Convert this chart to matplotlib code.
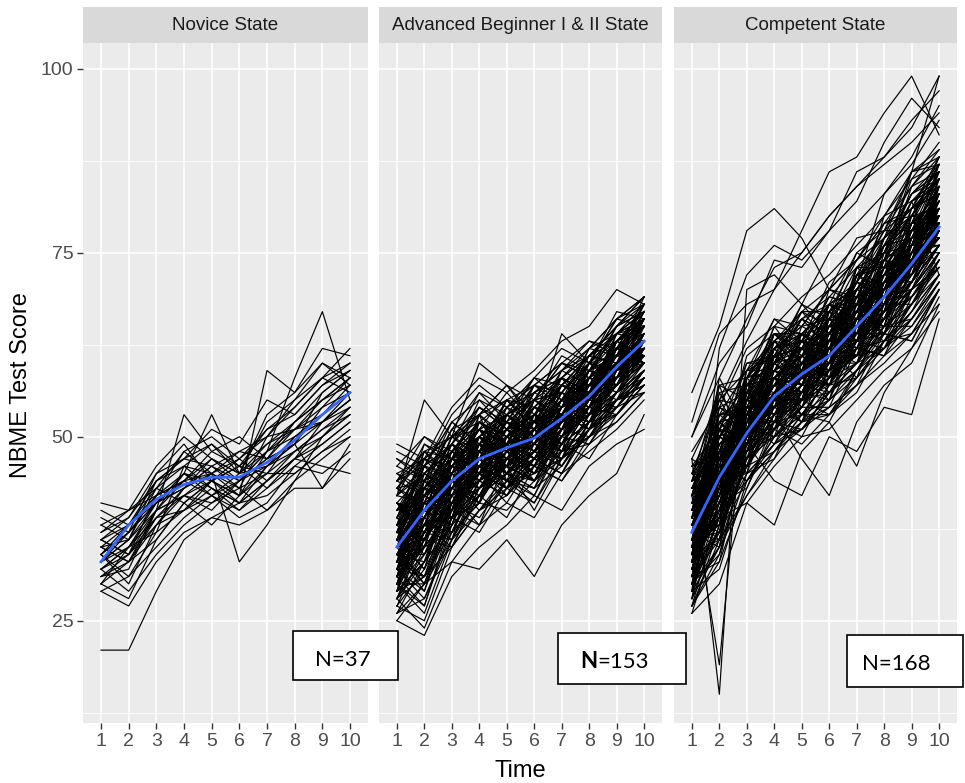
import matplotlib
matplotlib.use("Agg")
import matplotlib.pyplot as plt
from matplotlib.patches import Rectangle

# -----------------------------
# Data
# -----------------------------
times = [1, 2, 3, 4, 5, 6, 7, 8, 9, 10]

panel_titles = ["Novice State", "Advanced Beginner I & II State", "Competent State"]

novice = [
    [21, 21, 29, 36, 39, 41, 44, 47, 46, 45],
    [35, 33, 38, 43, 45, 42, 48, 52, 55, 58],
    [30, 28, 36, 41, 44, 46, 45, 50, 52, 55],
    [34, 37, 41, 45, 42, 44, 47, 49, 56, 59],
    [36, 38, 44, 47, 46, 43, 50, 54, 58, 62],
    [32, 35, 39, 42, 45, 47, 44, 48, 51, 53],
    [38, 40, 43, 46, 49, 45, 52, 55, 60, 57],
    [29, 31, 35, 39, 42, 40, 43, 46, 49, 52],
    [33, 36, 40, 42, 40, 44, 48, 51, 53, 56],
    [31, 34, 42, 44, 47, 45, 46, 49, 54, 58],
    [37, 39, 45, 49, 44, 47, 51, 53, 57, 60],
    [34, 30, 38, 40, 43, 41, 44, 47, 50, 54],
    [40, 38, 41, 44, 48, 46, 49, 52, 56, 59],
    [30, 33, 36, 41, 38, 42, 45, 45, 48, 51],
    [35, 36, 44, 46, 45, 48, 47, 51, 52, 55],
    [32, 29, 34, 38, 41, 43, 40, 44, 47, 50],
    [41, 40, 46, 50, 47, 45, 53, 56, 62, 61],
    [33, 35, 37, 40, 42, 39, 41, 46, 45, 48],
    [36, 34, 39, 43, 46, 44, 48, 50, 53, 57],
    [31, 32, 40, 45, 43, 41, 46, 48, 51, 54],
    [34, 38, 42, 48, 50, 47, 50, 55, 58, 60],
    [29, 27, 33, 37, 39, 38, 40, 43, 43, 47],
    [38, 36, 43, 41, 44, 42, 46, 49, 52, 55],
    [33, 37, 45, 47, 49, 46, 51, 54, 58, 56],
    [35, 33, 40, 44, 45, 43, 45, 48, 50, 53],
    [32, 34, 38, 42, 41, 44, 47, 52, 55, 58],
    [37, 40, 42, 45, 44, 46, 43, 47, 49, 52],
    [30, 35, 41, 43, 46, 48, 50, 51, 55, 57],
    [34, 31, 37, 46, 43, 40, 44, 47, 52, 56],
    [36, 39, 44, 47, 51, 49, 55, 53, 57, 59],
    [31, 33, 39, 40, 44, 41, 42, 45, 48, 50],
    [39, 37, 42, 44, 42, 45, 49, 51, 54, 56],
    [33, 36, 41, 43, 47, 44, 46, 50, 52, 54],
    [35, 38, 43, 48, 45, 33, 38, 44, 50, 53],
    [32, 35, 40, 42, 44, 42, 59, 56, 60, 58],
    [34, 37, 41, 45, 53, 45, 48, 58, 67, 55],
    [36, 34, 40, 53, 48, 50, 47, 49, 43, 49],
]

advanced = [
    [35, 40, 44, 47, 49, 50, 53, 56, 60, 63],
    [30, 36, 41, 45, 46, 48, 50, 54, 58, 61],
    [40, 43, 47, 50, 52, 51, 55, 59, 62, 66],
    [33, 38, 42, 44, 47, 49, 52, 53, 57, 60],
    [37, 42, 46, 49, 48, 52, 54, 58, 61, 65],
    [28, 34, 39, 43, 45, 44, 48, 51, 55, 58],
    [42, 45, 48, 52, 50, 53, 57, 60, 64, 67],
    [31, 37, 43, 46, 49, 47, 51, 55, 59, 62],
    [36, 39, 45, 48, 46, 50, 53, 57, 60, 64],
    [34, 41, 44, 47, 51, 52, 55, 56, 61, 63],
    [26, 30, 36, 40, 44, 45, 47, 50, 53, 57],
    [38, 44, 47, 51, 53, 55, 56, 60, 63, 66],
    [32, 35, 40, 45, 47, 46, 50, 53, 57, 61],
    [45, 47, 50, 53, 55, 54, 58, 61, 65, 68],
    [29, 33, 38, 42, 45, 47, 49, 52, 56, 59],
    [39, 43, 46, 48, 49, 51, 54, 57, 62, 64],
    [35, 38, 41, 44, 46, 48, 51, 55, 58, 62],
    [33, 42, 45, 50, 48, 49, 52, 56, 59, 63],
    [37, 36, 42, 46, 50, 52, 53, 58, 60, 65],
    [30, 39, 44, 43, 47, 50, 54, 55, 58, 61],
    [41, 38, 46, 51, 47, 49, 55, 53, 63, 60],
    [27, 25, 35, 40, 42, 46, 44, 49, 52, 56],
    [36, 44, 40, 47, 52, 48, 51, 59, 57, 64],
    [32, 29, 41, 45, 43, 51, 49, 52, 60, 62],
    [44, 48, 45, 52, 49, 54, 58, 56, 61, 67],
    [34, 31, 38, 49, 46, 44, 50, 55, 54, 59],
    [38, 46, 49, 45, 53, 50, 56, 54, 62, 65],
    [29, 37, 36, 43, 48, 45, 47, 53, 56, 58],
    [43, 40, 48, 50, 46, 55, 52, 59, 58, 66],
    [31, 35, 45, 41, 50, 47, 53, 51, 59, 63],
    [35, 43, 39, 48, 44, 53, 49, 57, 63, 61],
    [25, 30, 33, 38, 41, 39, 45, 48, 51, 55],
    [39, 35, 47, 44, 51, 49, 55, 60, 57, 64],
    [33, 40, 37, 46, 49, 52, 48, 54, 62, 60],
    [47, 44, 52, 55, 51, 57, 60, 58, 65, 69],
    [30, 27, 39, 42, 45, 43, 49, 52, 55, 57],
    [36, 45, 43, 49, 47, 51, 57, 55, 61, 66],
    [34, 33, 44, 47, 43, 50, 52, 57, 59, 62],
    [40, 47, 50, 48, 54, 52, 51, 60, 64, 67],
    [28, 36, 41, 39, 44, 48, 46, 51, 54, 59],
    [37, 39, 46, 51, 49, 47, 54, 58, 56, 63],
    [32, 43, 42, 46, 50, 53, 50, 55, 60, 64],
    [42, 41, 49, 47, 53, 56, 59, 57, 63, 66],
    [35, 30, 40, 45, 48, 45, 51, 54, 58, 61],
    [31, 38, 35, 43, 46, 49, 53, 52, 57, 62],
    [38, 49, 47, 52, 55, 51, 57, 61, 60, 68],
    [26, 28, 37, 41, 40, 44, 47, 50, 55, 56],
    [44, 42, 50, 54, 52, 58, 55, 62, 66, 65],
    [33, 37, 44, 42, 47, 50, 52, 54, 60, 63],
    [36, 40, 38, 47, 45, 49, 56, 53, 59, 64],
    [30, 34, 43, 46, 44, 42, 49, 55, 57, 60],
    [39, 46, 44, 50, 53, 55, 53, 59, 63, 67],
    [34, 38, 48, 45, 49, 46, 51, 57, 55, 62],
    [41, 37, 45, 49, 51, 54, 57, 56, 64, 63],
    [29, 41, 40, 44, 42, 47, 50, 54, 53, 58],
    [37, 44, 51, 48, 52, 50, 55, 58, 62, 66],
    [32, 31, 37, 44, 47, 51, 48, 52, 58, 60],
    [46, 50, 48, 53, 57, 53, 59, 63, 61, 69],
    [35, 36, 42, 50, 45, 48, 53, 51, 60, 62],
    [31, 42, 46, 43, 48, 46, 52, 56, 59, 61],
    [38, 34, 41, 47, 50, 53, 51, 57, 61, 65],
    [27, 32, 39, 37, 43, 45, 49, 47, 53, 57],
    [43, 47, 45, 51, 49, 56, 58, 61, 60, 67],
    [34, 39, 47, 49, 46, 44, 50, 53, 58, 63],
    [36, 41, 43, 45, 54, 50, 54, 57, 62, 64],
    [30, 26, 36, 42, 45, 48, 46, 52, 55, 59],
    [40, 45, 49, 53, 50, 52, 58, 55, 63, 66],
    [33, 35, 40, 48, 51, 47, 52, 58, 57, 61],
    [37, 48, 44, 46, 49, 55, 53, 56, 61, 65],
    [32, 37, 45, 41, 47, 49, 55, 51, 58, 62],
    [45, 43, 51, 56, 52, 55, 60, 59, 64, 68],
    [29, 31, 35, 40, 43, 41, 47, 50, 54, 56],
    [35, 40, 46, 44, 50, 54, 51, 57, 59, 64],
    [39, 37, 43, 50, 48, 46, 54, 60, 58, 63],
    [31, 44, 41, 47, 45, 50, 48, 54, 62, 60],
    [42, 46, 52, 49, 55, 57, 56, 61, 65, 67],
    [34, 29, 39, 43, 46, 44, 50, 53, 56, 61],
    [37, 42, 40, 52, 49, 51, 55, 58, 57, 65],
    [28, 33, 42, 45, 41, 47, 45, 51, 55, 58],
    [41, 39, 47, 46, 51, 53, 58, 56, 62, 66],
    [33, 45, 43, 48, 53, 50, 52, 59, 61, 63],
    [36, 32, 44, 41, 47, 52, 49, 55, 60, 62],
    [30, 38, 37, 45, 43, 46, 53, 51, 56, 60],
    [44, 50, 47, 54, 51, 56, 59, 62, 66, 68],
    [35, 36, 45, 49, 47, 45, 51, 54, 58, 64],
    [38, 43, 41, 47, 52, 49, 57, 55, 63, 61],
    [27, 35, 40, 38, 44, 47, 45, 52, 53, 57],
    [40, 41, 50, 52, 48, 54, 53, 60, 59, 66],
    [32, 39, 36, 44, 50, 48, 54, 57, 61, 62],
    [36, 47, 46, 51, 45, 53, 50, 56, 63, 65],
    [31, 27, 38, 46, 44, 41, 48, 50, 55, 59],
    [43, 44, 49, 47, 55, 52, 57, 61, 60, 67],
    [34, 40, 45, 43, 48, 51, 49, 55, 62, 61],
    [37, 35, 47, 48, 46, 55, 56, 54, 58, 64],
    [29, 42, 39, 41, 47, 44, 51, 53, 57, 60],
    [48, 46, 53, 57, 54, 58, 62, 60, 66, 69],
    [33, 38, 44, 49, 43, 47, 53, 58, 56, 62],
    [39, 45, 42, 45, 52, 50, 52, 55, 64, 65],
    [30, 30, 41, 44, 42, 49, 47, 51, 54, 58],
    [36, 43, 48, 46, 51, 48, 55, 59, 58, 63],
    [41, 36, 44, 53, 49, 52, 54, 57, 63, 66],
    [35, 41, 39, 42, 46, 50, 58, 53, 60, 61],
    [28, 37, 43, 47, 44, 43, 46, 52, 56, 59],
    [42, 49, 46, 50, 54, 56, 54, 62, 61, 68],
    [34, 34, 40, 45, 49, 46, 51, 55, 59, 60],
    [38, 40, 49, 44, 47, 53, 56, 54, 62, 64],
    [32, 44, 42, 48, 45, 49, 48, 58, 57, 63],
    [45, 42, 47, 55, 53, 51, 59, 61, 65, 67],
    [30, 35, 37, 41, 48, 45, 50, 49, 55, 57],
    [37, 46, 45, 48, 50, 54, 52, 57, 60, 66],
    [33, 31, 42, 46, 43, 48, 54, 56, 58, 61],
    [40, 43, 48, 51, 56, 52, 57, 55, 63, 65],
    [29, 39, 44, 40, 45, 50, 47, 53, 54, 59],
    [36, 37, 41, 49, 47, 46, 53, 59, 61, 62],
    [43, 48, 50, 47, 52, 57, 55, 60, 67, 66],
    [31, 36, 46, 43, 49, 44, 51, 54, 57, 63],
    [38, 41, 39, 50, 46, 51, 57, 56, 59, 64],
    [26, 33, 38, 42, 39, 46, 44, 50, 52, 56],
    [41, 45, 49, 54, 51, 55, 60, 58, 62, 68],
    [34, 42, 40, 45, 50, 47, 52, 57, 60, 61],
    [37, 38, 47, 44, 48, 53, 49, 54, 63, 65],
    [32, 28, 36, 48, 45, 42, 50, 53, 56, 60],
    [44, 47, 45, 52, 50, 56, 58, 62, 64, 67],
    [35, 39, 43, 41, 53, 49, 55, 52, 58, 63],
    [30, 43, 41, 46, 44, 48, 47, 56, 59, 62],
    [39, 36, 46, 50, 47, 54, 53, 58, 57, 64],
    [33, 40, 44, 42, 49, 45, 52, 55, 61, 60],
    [46, 44, 51, 53, 57, 55, 61, 59, 65, 69],
    [28, 31, 40, 45, 43, 47, 45, 51, 53, 58],
    [37, 47, 43, 47, 51, 49, 56, 54, 60, 66],
    [34, 35, 45, 49, 46, 52, 50, 58, 62, 61],
    [40, 42, 44, 48, 55, 51, 53, 57, 59, 65],
    [31, 38, 39, 46, 42, 46, 51, 50, 56, 59],
    [43, 41, 50, 51, 49, 57, 54, 61, 64, 66],
    [35, 46, 42, 44, 48, 50, 57, 55, 58, 63],
    [29, 33, 41, 43, 46, 40, 47, 53, 55, 57],
    [38, 39, 48, 52, 50, 53, 52, 56, 63, 67],
    [32, 41, 38, 47, 45, 48, 55, 57, 57, 62],
    [47, 45, 49, 56, 54, 57, 60, 63, 62, 68],
    [36, 32, 43, 41, 50, 52, 49, 54, 60, 61],
    [33, 44, 46, 45, 43, 47, 53, 52, 59, 64],
    [41, 40, 45, 51, 53, 50, 56, 60, 61, 65],
    [30, 37, 42, 38, 47, 51, 46, 51, 55, 60],
    [39, 48, 47, 50, 48, 55, 58, 56, 64, 66],
    [34, 30, 39, 47, 45, 43, 51, 57, 58, 62],
    [44, 46, 52, 49, 53, 58, 57, 61, 63, 67],
    [31, 36, 35, 42, 49, 46, 48, 49, 54, 58],
    [37, 43, 48, 46, 47, 51, 54, 59, 61, 65],
    [35, 38, 40, 53, 44, 48, 52, 54, 57, 63],
    [49, 47, 54, 58, 56, 59, 63, 65, 70, 68],
    [25, 23, 31, 35, 38, 42, 40, 46, 49, 51],
    [42, 55, 50, 60, 57, 52, 64, 60, 66, 69],
    [28, 24, 33, 32, 36, 31, 38, 42, 45, 53],
]

competent = [
    [56, 65, 78, 81, 77, 70, 74, 80, 86, 88],
    [45, 55, 63, 70, 78, 86, 88, 94, 99, 91],
    [50, 58, 66, 73, 75, 80, 84, 88, 92, 99],
    [47, 15, 70, 72, 68, 75, 79, 83, 87, 93],
    [42, 19, 58, 63, 66, 64, 71, 76, 80, 85],
    [37, 45, 51, 56, 59, 61, 65, 69, 74, 79],
    [32, 40, 47, 53, 55, 58, 62, 66, 70, 75],
    [40, 48, 53, 58, 62, 63, 68, 72, 77, 82],
    [35, 42, 49, 52, 57, 60, 63, 67, 71, 76],
    [30, 37, 44, 50, 53, 56, 60, 64, 68, 72],
    [39, 47, 55, 59, 61, 65, 67, 73, 78, 81],
    [34, 44, 48, 55, 56, 58, 64, 66, 72, 77],
    [43, 50, 56, 61, 64, 67, 70, 75, 80, 85],
    [28, 35, 42, 48, 51, 54, 57, 61, 64, 70],
    [38, 49, 52, 57, 60, 62, 66, 71, 75, 80],
    [36, 41, 50, 54, 58, 59, 63, 68, 73, 78],
    [31, 46, 46, 53, 55, 60, 61, 65, 69, 74],
    [41, 43, 54, 60, 62, 64, 69, 70, 76, 83],
    [33, 39, 51, 51, 57, 57, 62, 67, 70, 76],
    [45, 52, 57, 63, 66, 69, 73, 77, 83, 87],
    [27, 34, 45, 49, 52, 55, 59, 62, 66, 71],
    [38, 47, 49, 56, 63, 60, 66, 73, 74, 79],
    [35, 38, 53, 57, 54, 63, 64, 65, 77, 78],
    [42, 54, 51, 58, 61, 68, 67, 74, 72, 84],
    [30, 43, 47, 54, 58, 55, 65, 69, 70, 73],
    [37, 36, 52, 50, 60, 62, 60, 71, 76, 81],
    [33, 50, 48, 59, 56, 59, 68, 64, 73, 77],
    [44, 46, 56, 55, 65, 66, 71, 76, 79, 86],
    [29, 41, 43, 52, 50, 57, 58, 63, 67, 72],
    [39, 53, 54, 61, 59, 63, 70, 68, 78, 82],
    [36, 37, 50, 57, 61, 58, 63, 72, 71, 80],
    [32, 44, 55, 51, 55, 61, 66, 66, 75, 75],
    [46, 48, 58, 62, 67, 65, 72, 78, 81, 88],
    [34, 51, 46, 56, 58, 64, 61, 70, 74, 79],
    [40, 39, 53, 60, 57, 60, 69, 67, 77, 83],
    [28, 47, 44, 48, 53, 52, 59, 65, 65, 71],
    [38, 42, 57, 58, 63, 67, 64, 74, 80, 81],
    [35, 56, 50, 54, 60, 59, 67, 69, 72, 78],
    [31, 33, 49, 55, 52, 62, 65, 63, 70, 76],
    [43, 49, 52, 64, 62, 66, 70, 75, 82, 84],
    [26, 38, 45, 47, 55, 53, 57, 64, 63, 70],
    [37, 52, 55, 57, 59, 68, 66, 71, 78, 80],
    [41, 40, 50, 62, 64, 61, 73, 73, 76, 86],
    [33, 45, 56, 53, 56, 63, 63, 68, 75, 77],
    [36, 50, 47, 58, 61, 57, 68, 72, 73, 82],
    [30, 35, 51, 50, 54, 60, 62, 61, 69, 74],
    [47, 55, 59, 66, 63, 71, 74, 79, 84, 89],
    [35, 43, 48, 59, 64, 62, 61, 70, 79, 79],
    [39, 37, 54, 54, 57, 65, 69, 66, 74, 85],
    [32, 48, 46, 56, 53, 58, 64, 71, 71, 76],
    [44, 51, 60, 60, 68, 64, 71, 77, 80, 87],
    [29, 39, 49, 52, 51, 56, 60, 62, 68, 73],
    [38, 45, 53, 63, 60, 63, 67, 74, 77, 82],
    [34, 53, 50, 55, 62, 61, 65, 67, 76, 80],
    [41, 42, 57, 58, 55, 67, 70, 69, 81, 83],
    [36, 46, 45, 61, 59, 60, 63, 73, 72, 78],
    [31, 36, 52, 49, 56, 55, 66, 64, 70, 75],
    [42, 57, 55, 62, 65, 70, 68, 76, 83, 85],
    [37, 40, 51, 57, 63, 58, 72, 70, 74, 81],
    [33, 48, 47, 53, 58, 64, 62, 68, 78, 77],
    [45, 44, 56, 64, 60, 66, 75, 73, 79, 88],
    [27, 33, 43, 51, 49, 53, 56, 63, 64, 68],
    [39, 50, 54, 55, 61, 62, 69, 72, 76, 84],
    [35, 39, 58, 59, 57, 65, 64, 67, 80, 79],
    [40, 52, 49, 60, 64, 63, 70, 75, 74, 83],
    [32, 41, 50, 54, 52, 59, 61, 66, 71, 76],
    [48, 54, 62, 65, 69, 72, 76, 80, 85, 90],
    [34, 47, 46, 52, 59, 57, 63, 69, 70, 78],
    [38, 38, 55, 58, 56, 64, 67, 65, 77, 80],
    [30, 45, 48, 50, 55, 56, 59, 63, 67, 74],
    [43, 49, 53, 61, 66, 68, 71, 78, 78, 86],
    [36, 58, 51, 57, 58, 62, 66, 72, 75, 81],
    [29, 35, 47, 53, 54, 54, 62, 61, 66, 71],
    [41, 43, 59, 63, 62, 69, 68, 74, 82, 84],
    [35, 49, 50, 54, 60, 60, 73, 70, 73, 79],
    [38, 41, 52, 58, 57, 66, 65, 76, 77, 85],
    [31, 51, 45, 55, 53, 58, 60, 67, 69, 74],
    [44, 46, 57, 60, 67, 63, 72, 73, 84, 86],
    [33, 37, 53, 52, 55, 61, 64, 64, 71, 78],
    [40, 55, 49, 61, 62, 59, 69, 71, 75, 82],
    [26, 30, 41, 46, 50, 51, 55, 59, 62, 69],
    [37, 44, 56, 59, 58, 67, 63, 70, 79, 80],
    [42, 48, 51, 57, 64, 65, 70, 75, 76, 87],
    [34, 40, 48, 56, 52, 57, 66, 65, 74, 77],
    [39, 53, 55, 53, 61, 63, 68, 72, 78, 83],
    [32, 42, 46, 51, 56, 62, 58, 68, 68, 75],
    [46, 47, 61, 64, 63, 68, 75, 78, 86, 89],
    [35, 39, 50, 62, 58, 60, 64, 73, 72, 79],
    [30, 46, 44, 49, 54, 58, 61, 62, 70, 73],
    [41, 50, 57, 60, 66, 64, 67, 77, 81, 84],
    [37, 35, 53, 55, 55, 63, 71, 69, 75, 82],
    [33, 52, 49, 58, 60, 56, 62, 70, 73, 78],
    [43, 45, 58, 63, 59, 70, 69, 75, 83, 86],
    [28, 38, 46, 48, 53, 53, 59, 64, 63, 70],
    [38, 49, 51, 61, 62, 61, 66, 68, 77, 81],
    [36, 43, 55, 54, 57, 66, 63, 72, 76, 80],
    [31, 48, 48, 52, 59, 57, 65, 66, 71, 76],
    [45, 41, 56, 65, 64, 67, 74, 79, 80, 87],
    [34, 54, 52, 55, 56, 62, 61, 71, 74, 77],
    [39, 36, 49, 59, 61, 64, 68, 67, 79, 83],
    [32, 44, 54, 51, 54, 59, 63, 69, 69, 75],
    [42, 51, 50, 62, 65, 63, 72, 74, 82, 85],
    [36, 45, 57, 56, 58, 68, 66, 70, 76, 81],
    [29, 32, 44, 50, 51, 55, 58, 63, 66, 72],
    [40, 50, 55, 60, 63, 62, 70, 76, 78, 84],
    [35, 40, 51, 57, 56, 60, 67, 64, 73, 79],
    [37, 57, 47, 54, 62, 65, 64, 73, 75, 82],
    [33, 42, 52, 58, 53, 58, 62, 67, 72, 76],
    [44, 48, 60, 61, 68, 66, 73, 75, 85, 87],
    [30, 39, 46, 53, 57, 56, 60, 65, 68, 74],
    [38, 47, 54, 56, 60, 64, 69, 71, 74, 83],
    [41, 44, 50, 63, 59, 63, 66, 77, 80, 80],
    [34, 52, 48, 55, 64, 61, 64, 68, 71, 78],
    [36, 38, 56, 52, 55, 67, 71, 70, 78, 81],
    [27, 36, 42, 47, 52, 54, 57, 60, 64, 70],
    [43, 53, 59, 59, 62, 69, 68, 80, 82, 86],
    [32, 41, 51, 56, 58, 57, 63, 66, 75, 76],
    [39, 46, 49, 60, 61, 65, 72, 69, 73, 84],
    [35, 49, 53, 54, 56, 62, 65, 74, 77, 79],
    [31, 37, 47, 51, 60, 58, 61, 64, 70, 75],
    [42, 56, 57, 62, 64, 68, 70, 72, 81, 85],
    [37, 43, 52, 58, 54, 61, 67, 73, 74, 80],
    [34, 40, 54, 53, 59, 63, 63, 67, 76, 78],
    [46, 51, 58, 66, 65, 70, 77, 78, 84, 88],
    [28, 44, 45, 49, 51, 56, 59, 65, 66, 71],
    [40, 47, 55, 57, 63, 60, 68, 70, 79, 82],
    [36, 39, 50, 61, 57, 66, 65, 71, 72, 81],
    [33, 50, 52, 52, 61, 59, 62, 69, 74, 77],
    [39, 45, 56, 59, 56, 64, 71, 68, 78, 84],
    [30, 34, 48, 54, 55, 57, 60, 66, 69, 73],
    [44, 53, 53, 63, 67, 67, 69, 77, 81, 87],
    [35, 42, 49, 55, 58, 62, 66, 65, 75, 79],
    [38, 48, 57, 58, 60, 59, 72, 74, 73, 83],
    [32, 37, 46, 52, 56, 61, 61, 67, 71, 76],
    [41, 55, 54, 61, 62, 65, 67, 71, 80, 85],
    [36, 41, 51, 57, 59, 63, 64, 72, 77, 80],
    [29, 46, 47, 50, 53, 55, 63, 62, 67, 72],
    [43, 43, 58, 64, 61, 67, 70, 76, 83, 86],
    [34, 51, 50, 54, 64, 58, 66, 70, 72, 78],
    [37, 38, 55, 60, 57, 64, 68, 69, 79, 82],
    [31, 47, 48, 51, 54, 60, 60, 66, 70, 75],
    [40, 52, 53, 59, 66, 62, 73, 73, 76, 84],
    [33, 39, 57, 55, 55, 66, 62, 71, 75, 77],
    [45, 49, 52, 62, 63, 64, 71, 79, 81, 88],
    [38, 44, 50, 56, 60, 61, 67, 68, 74, 81],
    [35, 54, 56, 53, 58, 68, 64, 70, 78, 79],
    [27, 40, 44, 48, 52, 53, 58, 62, 65, 70],
    [42, 46, 59, 61, 62, 63, 69, 75, 80, 86],
    [36, 42, 53, 58, 55, 60, 65, 71, 73, 80],
    [32, 48, 49, 51, 59, 64, 63, 64, 76, 76],
    [39, 51, 55, 64, 64, 62, 70, 76, 77, 85],
    [34, 36, 52, 55, 56, 59, 61, 69, 71, 79],
    [44, 57, 58, 60, 67, 70, 74, 77, 86, 87],
    [30, 43, 46, 52, 53, 58, 62, 63, 68, 74],
    [37, 47, 51, 58, 61, 65, 66, 72, 76, 82],
    [41, 45, 56, 57, 58, 61, 72, 74, 79, 83],
    [33, 50, 48, 56, 62, 57, 63, 67, 73, 78],
    [38, 40, 54, 60, 57, 63, 67, 70, 75, 84],
    [35, 45, 53, 54, 60, 66, 68, 73, 78, 80],
    [29, 62, 72, 76, 74, 78, 82, 90, 96, 92],
    [52, 64, 68, 70, 75, 80, 84, 87, 90, 94],
    [50, 60, 65, 74, 73, 78, 86, 88, 93, 97],
    [38, 45, 49, 44, 42, 50, 48, 54, 53, 66],
    [40, 47, 50, 53, 47, 42, 52, 57, 60, 68],
    [34, 39, 41, 38, 48, 52, 46, 56, 62, 67],
    [36, 47, 53, 62, 58, 61, 63, 75, 82, 72],
    [47, 44, 55, 65, 60, 64, 71, 83, 88, 95],
    [39, 43, 58, 54, 57, 60, 70, 74, 86, 99],
]

# smoothed (loess) mean trend per panel
smooth_novice = [33, 38, 41.5, 43.5, 44.5, 44.5, 46.5, 49.5, 53, 56]
smooth_advanced = [35, 40, 44, 47, 48.5, 49.8, 52.5, 55.5, 59.5, 63]
smooth_competent = [37, 44.5, 50.5, 55.5, 58.5, 61, 65, 69, 73.5, 78.5]

n_labels = ["37", "153", "168"]

# -----------------------------
# Figure layout (pixel positions taken from reference)
# -----------------------------
W, H = 965, 783
fig = plt.figure(figsize=(W / 100, H / 100), dpi=100)
fig.patch.set_facecolor("white")

plt.rcParams["font.family"] = ["Liberation Sans", "DejaVu Sans"]

panel_x = [(83, 368), (379, 662), (674, 957)]
panel_top, panel_bottom = 43, 723
strip_top = 7

groups = [novice, advanced, competent]
smooths = [smooth_novice, smooth_advanced, smooth_competent]

for i in range(3):
    x0, x1 = panel_x[i]
    ax = fig.add_axes([x0 / W, 1 - panel_bottom / H, (x1 - x0) / W,
                       (panel_bottom - panel_top) / H])
    ax.set_facecolor("#EBEBEB")

    for row in groups[i]:
        ax.plot(times, row, color="black", linewidth=0.85, zorder=2)
    ax.plot(times, smooths[i], color="#3366FF", linewidth=2.0, zorder=3)

    ax.set_xlim(0.35, 10.65)
    ax.set_ylim(11.1, 103.5)
    ax.set_xticks(times)
    ax.set_yticks([25, 50, 75, 100])
    ax.set_yticks([12.5, 37.5, 62.5, 87.5], minor=True)
    ax.grid(which="major", color="white", linewidth=1.1, zorder=0)
    ax.grid(which="minor", axis="y", color="white", linewidth=0.55, zorder=0)
    ax.set_axisbelow(True)
    for s in ax.spines.values():
        s.set_visible(False)

    ax.tick_params(axis="both", which="major", length=4, width=1,
                   color="#333333", labelcolor="#4D4D4D", labelsize=14, pad=3)
    ax.tick_params(axis="y", which="minor", length=0)
    if i > 0:
        ax.tick_params(axis="y", which="major", length=0, labelleft=False)

    # facet strip
    sax = fig.add_axes([x0 / W, 1 - panel_top / H, (x1 - x0) / W,
                        (panel_top - strip_top) / H])
    sax.set_facecolor("#D9D9D9")
    sax.set_xticks([])
    sax.set_yticks([])
    for s in sax.spines.values():
        s.set_visible(False)
    sax.text(0.5, 0.5, panel_titles[i], ha="center", va="center",
             fontsize=13.5, color="#1A1A1A", transform=sax.transAxes)

fig.text(21 / W, 1 - 385 / H, "NBME Test Score", rotation=90,
         ha="center", va="center", fontsize=17, color="black")
fig.text(520 / W, 1 - 771 / H, "Time", ha="center", va="center",
         fontsize=17, color="black")

# -----------------------------
# N= boxes pasted over the panels
# -----------------------------
boxes = [(293, 631, 398, 680), (558, 633, 686, 684), (847, 635, 963, 687)]
for (bx0, by0, bx1, by1) in boxes:
    fig.patches.append(Rectangle((bx0 / W, 1 - by1 / H), (bx1 - bx0) / W,
                                 (by1 - by0) / H, transform=fig.transFigure,
                                 facecolor="white", edgecolor="black",
                                 linewidth=1.2, zorder=5))

box_font = ["Lato", "DejaVu Sans"]
fig.text(343 / W, 1 - 660 / H, "N=" + n_labels[0], ha="center", va="center",
         fontsize=16, family=box_font, zorder=6)
fig.text(597 / W, 1 - 662 / H, "N", ha="right", va="center", fontsize=16,
         fontweight="bold", family=box_font, zorder=6)
fig.text(597 / W, 1 - 662 / H, "=" + n_labels[1], ha="left", va="center",
         fontsize=16, family=box_font, zorder=6)
fig.text(896 / W, 1 - 664 / H, "N=" + n_labels[2], ha="center", va="center",
         fontsize=16, family=box_font, zorder=6)

plt.savefig("out.png", dpi=100)
